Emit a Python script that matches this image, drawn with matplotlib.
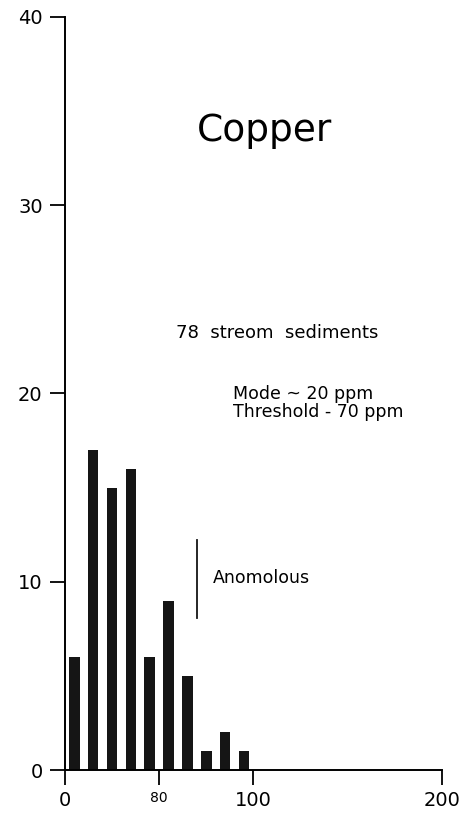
import matplotlib.pyplot as plt
import numpy as np

# Copper in stream sediments: counts per 10 ppm class
bin_centers = [5, 15, 25, 35, 45, 55, 65, 75, 85, 95]
counts = [6, 17, 15, 16, 6, 9, 5, 1, 2, 1]

xticks = [0, 50, 100, 200]
xtick_labels = ["0", "80", "100", "200"]
yticks = [0, 10, 20, 30, 40]
threshold = 70

fig = plt.figure(figsize=(4.67, 8.15), dpi=100)
ax = fig.add_axes([0.139, 0.0552, 0.807, 0.924])

ax.bar(bin_centers, counts, width=5.6, color="#151515")

# anomalous marker
ax.plot([threshold, threshold], [8.1, 12.2], color="#151515", linewidth=1.3)
ax.text(78.5, 10.2, "Anomolous", fontsize=12.5, va="center", ha="left")

ax.text(106, 33.95, "Copper", fontsize=27, ha="center", va="center")
ax.text(59, 23.2, "78  streom  sediments", fontsize=13, ha="left", va="center")
ax.text(89, 19.5, "Mode ~ 20 ppm\nThreshold - 70 ppm", fontsize=12.5,
        ha="left", va="center", linespacing=0.95)

ax.set_xlim(0, 200)
ax.set_ylim(0, 40)
ax.set_xticks(xticks)
ax.set_xticklabels(xtick_labels)
ax.set_yticks(yticks)
ax.tick_params(axis="both", direction="out", length=11, width=1.3, labelsize=14)
ax.tick_params(axis="x", pad=4)
ax.tick_params(axis="y", pad=5)
for lbl in ax.get_xticklabels():
    if lbl.get_text() == "80":
        lbl.set_fontsize(10)

for side in ["top", "right"]:
    ax.spines[side].set_visible(False)
for side in ["left", "bottom"]:
    ax.spines[side].set_linewidth(1.4)

fig.savefig("out.png", dpi=100)
